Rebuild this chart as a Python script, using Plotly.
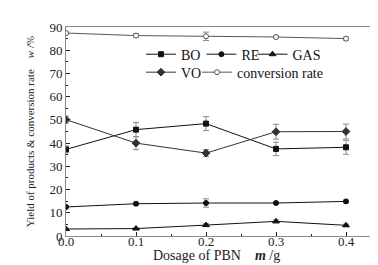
import plotly.graph_objects as go

dosage = [0.0, 0.1, 0.2, 0.3, 0.4]
bo = [37.3, 45.8, 48.4, 37.5, 38.2]
bo_err = [1.5, 3.1, 3.0, 2.9, 3.0]
re = [12.5, 13.9, 14.2, 14.2, 14.9]
re_err = [0.4, 0.7, 1.8, 0.4, 0.6]
gas = [3.0, 3.2, 4.7, 6.3, 4.6]
gas_err = [0.4, 0.4, 0.6, 0.6, 0.5]
vo = [50.1, 40.0, 35.7, 44.9, 45.0]
vo_err = [1.5, 2.8, 1.5, 3.2, 3.2]
conv = [87.4, 86.3, 86.0, 85.7, 85.0]
conv_err = [0.4, 0.8, 1.8, 0.4, 0.7]

FONT = "Liberation Serif"
ERR = dict(type="data", color="#8a8a8a", thickness=1, width=3)

fig = go.Figure()

def add(name, y, err, symbol, color, legend, size=5, fill=None):
    fig.add_trace(go.Scatter(
        x=dosage, y=y, name=name, mode="lines+markers",
        error_y=dict(array=err, **ERR),
        line=dict(color=color, width=1),
        marker=dict(symbol=symbol, size=size, color=fill or color,
                    line=dict(color=color, width=1)),
        legend=legend, showlegend=True,
    ))

add("BO", bo, bo_err, "square", "#111111", "legend", 5)
add("RE", re, re_err, "circle", "#111111", "legend2", 5)
add("GAS", gas, gas_err, "triangle-up", "#111111", "legend3", 6)
add("VO", vo, vo_err, "diamond", "#333333", "legend4", 6)
add("conversion rate", conv, conv_err, "circle", "#555555", "legend5", 5, fill="white")

axis_common = dict(
    showline=True, linecolor="#8a8a8a", linewidth=1, mirror=True,
    ticks="inside", ticklen=4, tickcolor="#222", showgrid=False, zeroline=False,
    tickfont=dict(family=FONT, size=13, color="#222"),
    minor=dict(ticks="inside", ticklen=2, tickcolor="#222"),
)

fig.update_xaxes(range=[0, 0.45], tickvals=[0, 0.1, 0.2, 0.3, 0.4],
                 ticktext=["0.0", "0.1", "0.2", "0.3", "0.4"],
                 minor_dtick=0.05, ticklabelstandoff=-7,
                 **axis_common)
fig.update_yaxes(range=[0, 90], dtick=10, minor_dtick=5,
                 title=dict(text="Yield of products &amp; conversion rate&nbsp;&nbsp;&nbsp;&nbsp;<i>w</i> /%",
                            font=dict(family=FONT, size=11, color="#222"), standoff=12),
                 **axis_common)

fig.add_annotation(text="Dosage of PBN&nbsp;&nbsp;&nbsp;&nbsp;<i><b>m</b></i> /g",
                   xref="paper", yref="paper", x=0.479, y=-0.092,
                   xanchor="center", yanchor="middle", showarrow=False,
                   font=dict(family=FONT, size=14, color="#222"))

leg = dict(orientation="h", xanchor="left", yanchor="middle", bgcolor="rgba(0,0,0,0)",
           font=dict(family=FONT, size=14, color="#111"), itemwidth=30, visible=True)
y1, y2 = 0.868, 0.782
fig.update_layout(
    width=378, height=265,
    margin=dict(l=58, r=5, t=19, b=37),
    plot_bgcolor="white", paper_bgcolor="white",
    showlegend=True,
    legend=dict(x=0.238, y=y1, **leg),
    legend2=dict(x=0.430, y=y1, **leg),
    legend3=dict(x=0.592, y=y1, **leg),
    legend4=dict(x=0.238, y=y2, **leg),
    legend5=dict(x=0.416, y=y2, **leg),
)

fig.write_html("out.html")
